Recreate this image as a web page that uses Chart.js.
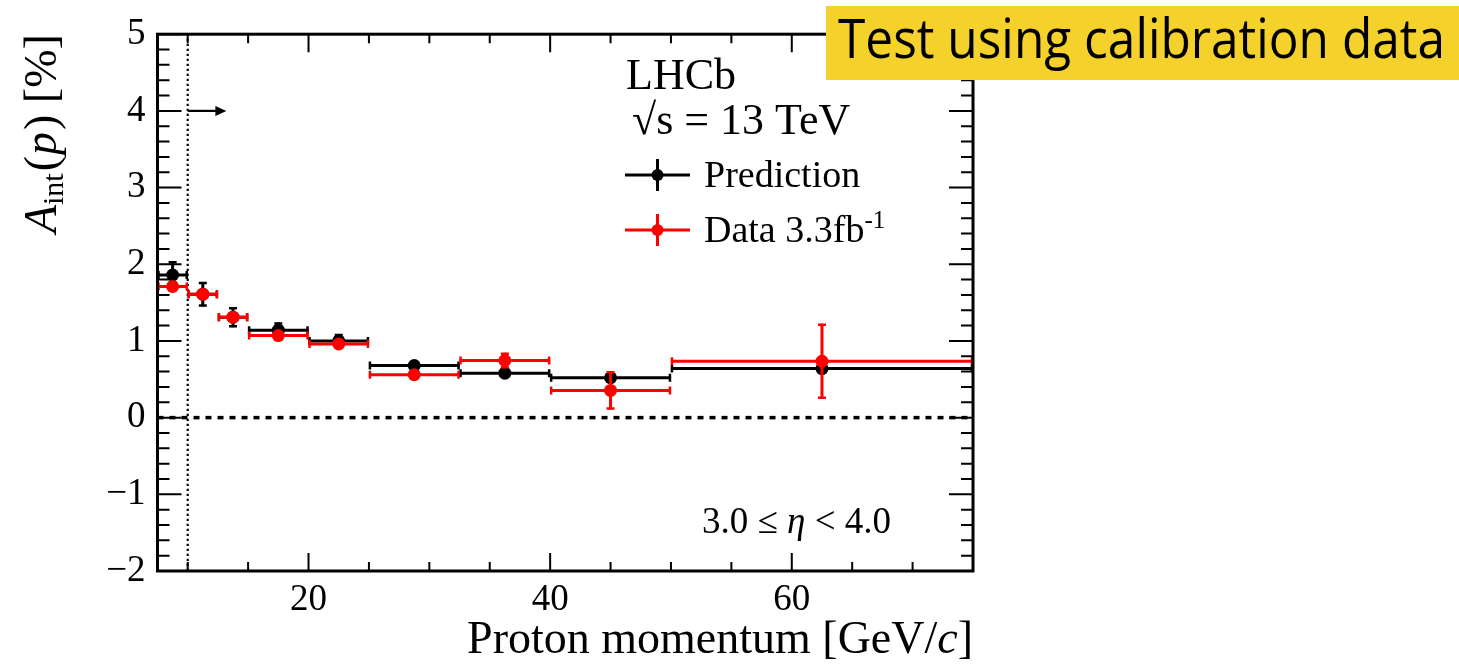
<!DOCTYPE html>
<html>
<head>
<meta charset="utf-8">
<script src="https://cdn.jsdelivr.net/npm/chart.js@4.4.1/dist/chart.umd.min.js"></script>
<style>
  html, body { margin: 0; padding: 0; background: #fff; }
  canvas { display: block; }
</style>
</head>
<body>
<canvas id="chart" width="1459" height="664"></canvas>
<script>
// bins in proton momentum [GeV/c]
const binLo  = [7.5, 10, 12.5, 15, 20, 25, 32.5, 40, 50];
const binHi  = [10, 12.5, 15, 20, 25, 32.5, 40, 50, 75];
const binMid = [8.75, 11.25, 13.75, 17.5, 22.5, 28.75, 36.25, 45, 62.5];

// A_int(p) [%]
const predVal = [1.86, 1.61, 1.31, 1.14, 1.00, 0.68, 0.58, 0.52, 0.64];
const predErr = [0.18, 0.16, 0.13, 0.10, 0.09, 0.04, 0.03, 0.04, 0.05];
const dataVal = [1.71, 1.61, 1.31, 1.07, 0.96, 0.56, 0.745, 0.355, 0.735];
const dataErr = [0.07, 0.05, 0.05, 0.03, 0.04, 0.05, 0.10, 0.25, 0.49];

const xTicks = [20, 40, 60];
const yTicks = [-2, -1, 0, 1, 2, 3, 4, 5];

const serif = '"Liberation Serif", "DejaVu Serif", serif';

const toPoints = (vals, errs) => binMid.map((x, i) => ({
  x, y: vals[i], err: errs[i], xMin: binLo[i], xMax: binHi[i]
}));

// draw a row of text pieces with different fonts
function drawRuns(ctx, runs, x, y) {
  let cx = x;
  runs.forEach(r => {
    ctx.font = r.font;
    ctx.fillText(r.t, cx, y + (r.dy || 0));
    cx += ctx.measureText(r.t).width + (r.gap || 0);
  });
}
function runsWidth(ctx, runs) {
  let w = 0;
  runs.forEach(r => { ctx.font = r.font; w += ctx.measureText(r.t).width + (r.gap || 0); });
  return w;
}

const errorBars = {
  id: 'errorBars',
  beforeDatasetDraw(chart, args) {
    const ds = chart.data.datasets[args.index];
    const xs = chart.scales.x, ys = chart.scales.y;
    const ctx = chart.ctx;
    ctx.save();
    ctx.strokeStyle = ds.backgroundColor;
    ds.data.forEach(p => {
      const x0 = xs.getPixelForValue(p.xMin), x1 = xs.getPixelForValue(p.xMax);
      const xc = xs.getPixelForValue(p.x), yc = ys.getPixelForValue(p.y);
      const yt = ys.getPixelForValue(p.y + p.err), yb = ys.getPixelForValue(p.y - p.err);
      ctx.lineWidth = 3;
      ctx.beginPath();
      ctx.moveTo(x0, yc); ctx.lineTo(x1, yc);
      ctx.moveTo(xc, yt); ctx.lineTo(xc, yb);
      ctx.stroke();
      ctx.lineWidth = 2.5;
      ctx.beginPath();
      ctx.moveTo(x0 + 1, yc - 4); ctx.lineTo(x0 + 1, yc + 4);
      ctx.moveTo(x1 - 1, yc - 4); ctx.lineTo(x1 - 1, yc + 4);
      ctx.moveTo(xc - 4, yt + 1); ctx.lineTo(xc + 4, yt + 1);
      ctx.moveTo(xc - 4, yb - 1); ctx.lineTo(xc + 4, yb - 1);
      ctx.stroke();
    });
    ctx.restore();
  }
};

const decorations = {
  id: 'decorations',
  beforeDatasetsDraw(chart) {
    const { ctx, chartArea: a, scales: { x, y } } = chart;
    ctx.save();
    // zero line
    ctx.strokeStyle = '#000';
    ctx.lineWidth = 3.5;
    ctx.setLineDash([6, 6]);
    ctx.beginPath();
    ctx.moveTo(a.left, y.getPixelForValue(0));
    ctx.lineTo(a.right, y.getPixelForValue(0));
    ctx.stroke();
    // momentum threshold
    ctx.lineWidth = 2.2;
    ctx.setLineDash([2.2, 2.8]);
    const xv = x.getPixelForValue(10);
    ctx.beginPath();
    ctx.moveTo(xv, a.bottom); ctx.lineTo(xv, a.top);
    ctx.stroke();
    ctx.setLineDash([]);
    // arrow
    const ya = y.getPixelForValue(4), xe = x.getPixelForValue(13.2);
    ctx.beginPath();
    ctx.moveTo(xv, ya); ctx.lineTo(xe - 8, ya);
    ctx.stroke();
    ctx.fillStyle = '#000';
    ctx.beginPath();
    ctx.moveTo(xe, ya); ctx.lineTo(xe - 11, ya - 5); ctx.lineTo(xe - 11, ya + 5);
    ctx.closePath(); ctx.fill();
    ctx.restore();
  },
  afterDraw(chart) {
    const { ctx, chartArea: a, scales: { x, y } } = chart;
    ctx.save();
    ctx.strokeStyle = '#000';
    ctx.fillStyle = '#000';
    // inward ticks on all four sides
    ctx.lineWidth = 2;
    ctx.beginPath();
    for (let v = 10; v <= 75; v += 5) {
      const px = x.getPixelForValue(v);
      const len = v % 20 === 0 ? 18 : 9;
      ctx.moveTo(px, a.bottom); ctx.lineTo(px, a.bottom - len);
      ctx.moveTo(px, a.top); ctx.lineTo(px, a.top + len);
    }
    for (let k = -10; k <= 25; k++) {
      const py = y.getPixelForValue(k / 5);
      const len = k % 5 === 0 ? 24 : 12;
      ctx.moveTo(a.left, py); ctx.lineTo(a.left + len, py);
      ctx.moveTo(a.right, py); ctx.lineTo(a.right - len, py);
    }
    ctx.stroke();
    // frame
    ctx.lineWidth = 3;
    ctx.strokeRect(a.left, a.top, a.right - a.left, a.bottom - a.top);

    ctx.textBaseline = 'alphabetic';
    ctx.textAlign = 'left';

    // x axis title, right aligned to the frame
    const xt = [
      { t: 'Proton momentum [GeV/', font: '46px ' + serif },
      { t: 'c', font: 'italic 46px ' + serif },
      { t: ']', font: '46px ' + serif }
    ];
    drawRuns(ctx, xt, a.right - runsWidth(ctx, xt), 653);

    // y axis title, rotated, ends at top of frame
    const yt = [
      { t: 'A', font: 'italic 46px ' + serif },
      { t: 'int', font: '30px ' + serif, dy: 7, gap: 2 },
      { t: '(', font: '46px ' + serif, gap: 1 },
      { t: 'p', font: 'italic 46px ' + serif, gap: 2 },
      { t: ') [%]', font: '46px ' + serif }
    ];
    const w = runsWidth(ctx, yt);
    ctx.save();
    ctx.translate(56, a.top + w);
    ctx.rotate(-Math.PI / 2);
    drawRuns(ctx, yt, 0, 0);
    ctx.restore();

    // labels
    ctx.font = '44px ' + serif;
    ctx.fillText('LHCb', 626, 89);
    ctx.fillText('\u221As = 13 TeV', 632, 134);

    // legend
    const rows = [
      { ds: chart.data.datasets[1], y: 175, runs: [{ t: 'Prediction', font: '38px ' + serif }] },
      { ds: chart.data.datasets[0], y: 230, runs: [
        { t: 'Data 3.3fb', font: '38px ' + serif },
        { t: '-1', font: '25px ' + serif, dy: -14 }
      ] }
    ];
    rows.forEach(r => {
      ctx.strokeStyle = r.ds.backgroundColor;
      ctx.fillStyle = r.ds.backgroundColor;
      ctx.lineWidth = 3;
      ctx.beginPath();
      ctx.moveTo(625, r.y); ctx.lineTo(690, r.y);
      ctx.moveTo(657.5, r.y - 16); ctx.lineTo(657.5, r.y + 16);
      ctx.stroke();
      ctx.beginPath();
      ctx.arc(657.5, r.y, 6, 0, Math.PI * 2);
      ctx.fill();
      ctx.fillStyle = '#000';
      drawRuns(ctx, r.runs, 704, r.y + 12);
    });

    // eta range
    drawRuns(ctx, [
      { t: '3.0 \u2264 ', font: '37px ' + serif },
      { t: '\u03B7', font: 'italic 37px ' + serif },
      { t: ' < 4.0', font: '37px ' + serif }
    ], 702, 533);

    // banner
    ctx.fillStyle = '#F4D12B';
    ctx.fillRect(826, 6, 1459 - 826, 74);
    ctx.fillStyle = '#000';
    ctx.font = '54px "Open Sans", "Noto Sans", sans-serif';
    const bt = 'Test using calibration data';
    const bw = ctx.measureText(bt).width;
    ctx.save();
    ctx.translate(838, 58);
    ctx.scale(607 / bw, 1);
    ctx.fillText(bt, 0, 0);
    ctx.restore();

    ctx.restore();
  }
};

new Chart(document.getElementById('chart').getContext('2d'), {
  type: 'scatter',
  data: {
    datasets: [
      { label: 'Data 3.3fb-1', data: toPoints(dataVal, dataErr), backgroundColor: '#ff0000',
        borderWidth: 0, pointRadius: 6.5, pointHoverRadius: 6.5 },
      { label: 'Prediction', data: toPoints(predVal, predErr), backgroundColor: '#000000',
        borderWidth: 0, pointRadius: 6.5, pointHoverRadius: 6.5 }
    ]
  },
  options: {
    responsive: false,
    animation: false,
    devicePixelRatio: 1,
    layout: { padding: { left: 0, top: 32, right: 1459 - 973, bottom: 0 } },
    plugins: { legend: { display: false }, tooltip: { enabled: false } },
    scales: {
      x: {
        type: 'linear', min: 7.5, max: 75,
        grid: { display: false, drawTicks: false },
        border: { display: false },
        afterBuildTicks: s => { s.ticks = xTicks.map(v => ({ value: v })); },
        afterFit: s => { s.height = 93; },
        ticks: { color: '#000', padding: 7, maxRotation: 0, font: { family: serif, size: 37 } }
      },
      y: {
        type: 'linear', min: -2, max: 5,
        grid: { display: false, drawTicks: false },
        border: { display: false },
        afterBuildTicks: s => { s.ticks = yTicks.map(v => ({ value: v })); },
        afterFit: s => { s.width = 157.5; },
        ticks: { color: '#000', padding: 12, font: { family: serif, size: 37 },
          callback: v => v < 0 ? '\u2212' + Math.abs(v) : String(v) }
      }
    }
  },
  plugins: [errorBars, decorations]
});
</script>
</body>
</html>
